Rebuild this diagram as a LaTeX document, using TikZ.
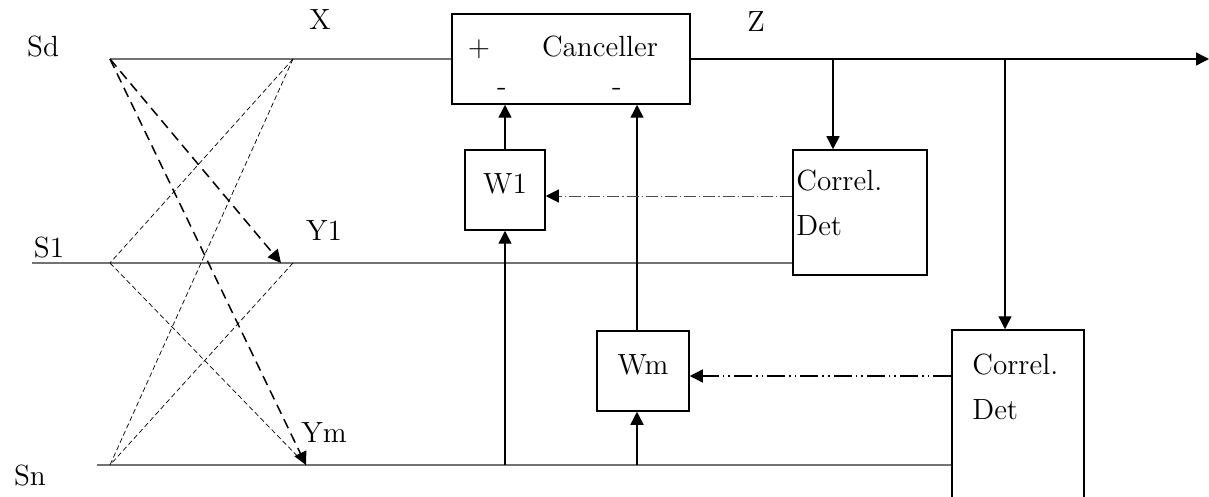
\documentclass[tikz,border=0pt]{standalone}
\usetikzlibrary{arrows.meta}
\begin{document}
\begin{tikzpicture}[x=0.5pt,y=-0.5pt,
  lbl/.style={font=\fontsize{14.6}{17}\selectfont, inner sep=0pt},
  blk/.style={draw, line width=0.75pt, inner sep=0pt},
  sig/.style={draw=black!55, line width=0.55pt},
  wire/.style={draw, line width=0.7pt},
  tip/.style={-{Triangle[length=6.5pt,width=6.5pt,color=black]}},
  thinpath/.style={draw, dash pattern=on 2.5pt off 1.5pt, line width=0.35pt},
  thickpath/.style={draw, dash pattern=on 5pt off 3pt, line width=0.75pt},
  fbthin/.style={draw=black!70, line width=0.35pt, dash pattern=on 6pt off 1.5pt on 0.6pt off 1.5pt},
  fbthick/.style={draw, line width=0.7pt, dash pattern=on 9pt off 2pt on 0.8pt off 2pt on 0.8pt off 2pt}
]
\clip (0,0) rectangle (1209,497);

% blocks
\node[blk, minimum width=119pt, minimum height=45pt] (canc) at (571,59) {};
\node[blk, minimum width=40pt, minimum height=40pt] (w1) at (505,190) {};
\node[blk, minimum width=46pt, minimum height=40pt] (wm) at (643,371) {};
\node[blk, minimum width=67pt, minimum height=62.5pt] (cd1) at (860,212.5) {};
\node[blk, minimum width=66pt, minimum height=100pt] (cd2) at (1018,430) {};

% texts
\node[lbl] (tcanc) at (600,47) {Canceller};
\node[lbl] (tplus) at (479,49) {+};
\node[lbl] (tm1) at (502,92) {-};
\node[lbl] (tm2) at (617,92) {-};
\node[lbl] (tw1) at (505,184) {W1};
\node[lbl] (twm) at (643,365) {Wm};
\node[lbl, anchor=west] (tc1a) at (796,181) {Correl.};
\node[lbl, anchor=west] (tc1b) at (796,226) {Det};
\node[lbl, anchor=west] (tc2a) at (972,365) {Correl.};
\node[lbl, anchor=west] (tc2b) at (972,410) {Det};
\node[lbl] (lsd) at (43,47) {Sd};
\node[lbl] (ls1) at (49,248) {S1};
\node[lbl] (lsn) at (30,476) {Sn};
\node[lbl] (lx) at (320,20) {X};
\node[lbl] (ly1) at (324,231) {Y1};
\node[lbl] (lym) at (324,433) {Ym};
\node[lbl] (lz) at (756,22) {Z};

% coordinates
\coordinate (sd) at (110,59);
\coordinate (s1a) at (32,263);
\coordinate (s1b) at (110,263);
\coordinate (sna) at (97,465);
\coordinate (snb) at (110,465);
\coordinate (xr) at (293,59);
\coordinate (y1r) at (293,263);
\coordinate (y1tip) at (281,263);
\coordinate (ymtip) at (306,465);
\coordinate (v1) at (505,465);
\coordinate (v2) at (637,465);
\coordinate (t1) at (833,59);
\coordinate (t2) at (1005,59);
\coordinate (zout) at (1209,59);

% signal lines
\draw[sig] (sd) -- (canc.west);
\draw[sig] (s1a) -- (cd1.west |- s1a);
\draw[sig] (sna) -- (cd2.west |- sna);

% crossing paths
\draw[thinpath] (xr) -- (s1b);
\draw[thinpath] (xr) -- (snb);
\draw[thinpath] (y1r) -- (snb);
\draw[thinpath] (s1b) -- (ymtip);
\draw[thickpath, tip] (sd) -- (y1tip);
\draw[thickpath, tip] (sd) -- (ymtip);

% weights
\draw[wire, tip] (v1) -- (w1.south);
\draw[wire, tip] (w1.north) -- (w1.north |- canc.south);
\draw[wire, tip] (v2) -- (v2 |- wm.south);
\draw[wire, tip] (v2 |- wm.north) -- (v2 |- canc.south);

% output and taps
\draw[wire, tip] (canc.east) -- (zout);
\draw[wire, tip] (t1) -- (t1 |- cd1.north);
\draw[wire, tip] (t2) -- (t2 |- cd2.north);

% feedback
\draw[fbthin, tip] (cd1.west |- 0,196) -- (w1.east |- 0,196);
\draw[fbthick, tip] (cd2.west |- 0,376) -- (wm.east |- 0,376);
\end{tikzpicture}
\end{document}
